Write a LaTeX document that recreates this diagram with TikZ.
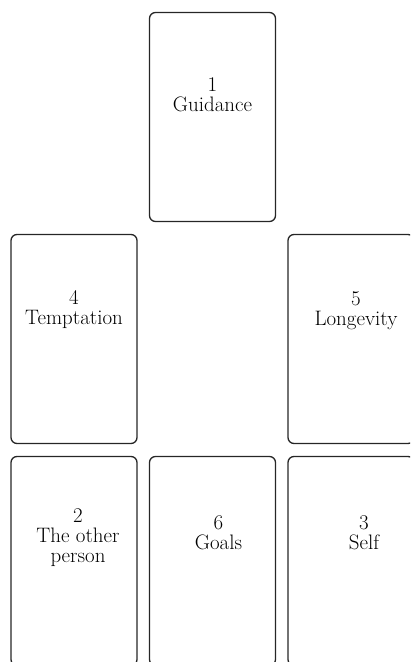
\documentclass[tikz,border=0pt]{standalone}
\usetikzlibrary{calc}
\tikzset{
  card/.style={draw=black!85, line width=1.3bp, rounded corners=6bp, minimum width=126bp, minimum height=209bp, inner sep=0pt},
  cardtext/.style={align=center, font=\fontsize{21}{20}\selectfont, inner sep=0pt, text=black}
}
\begin{document}
\begin{tikzpicture}[x=1bp,y=-1bp]
\useasboundingbox (0,0) rectangle (410,662);
\clip (0,0) rectangle (410,662);
% cards
\node[card] (c1) at (212.5,117) {};
\node[card] (c4) at (74,339) {};
\node[card] (c5) at (351,339) {};
\node[card] (c2) at (74,561) {};
\node[card] (c6) at (212.5,561) {};
\node[card] (c3) at (351,561) {};
% texts
\node[cardtext] (t1) at ($(c1.north)+(0,83)$) {1\\Guidance};
\node[cardtext] (t4) at ($(c4.north)+(0,76)$) {4\\Temptation};
\node[cardtext] (t5) at ($(c5.north)+(5,77)$) {5\\Longevity};
\node[cardtext] (t2) at ($(c2.north)+(4,82)$) {2\\The other\\person};
\node[cardtext] (t6) at ($(c6.north)+(6,77)$) {6\\Goals};
\node[cardtext] (t3) at ($(c3.north)+(13,77)$) {3\\Self};
\end{tikzpicture}
\end{document}
